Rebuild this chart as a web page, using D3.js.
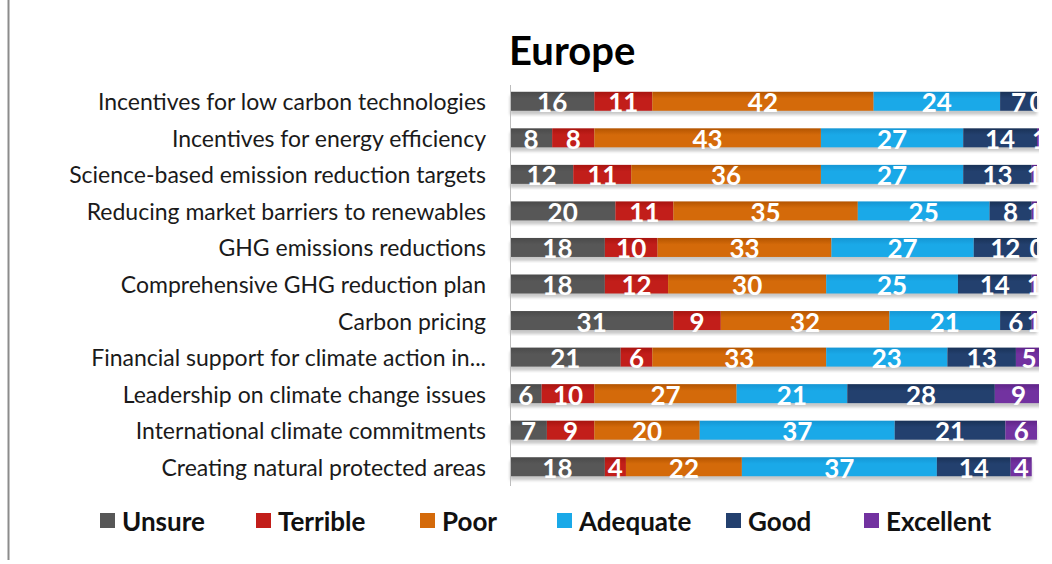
<!DOCTYPE html>
<html>
<head>
<meta charset="utf-8">
<script src="https://cdn.jsdelivr.net/npm/d3@7"></script>
<style>
  body { margin: 0; background: #fff; }
  text { font-family: Lato, "Open Sans", sans-serif; }
</style>
</head>
<body>
<svg width="1052" height="564"></svg>
<script>
const categories = [
  "Incentives for low carbon technologies",
  "Incentives for energy efficiency",
  "Science-based emission reduction targets",
  "Reducing market barriers to renewables",
  "GHG emissions reductions",
  "Comprehensive GHG reduction plan",
  "Carbon pricing",
  "Financial support for climate action in...",
  "Leadership on climate change issues",
  "International climate commitments",
  "Creating natural protected areas"
];
const seriesNames = ["Unsure", "Terrible", "Poor", "Adequate", "Good", "Excellent"];
const unsure    = [16, 8, 12, 20, 18, 18, 31, 21, 6, 7, 18];
const terrible  = [11, 8, 11, 11, 10, 12, 9, 6, 10, 9, 4];
const poor      = [42, 43, 36, 35, 33, 30, 32, 33, 27, 20, 22];
const adequate  = [24, 27, 27, 25, 27, 25, 21, 23, 21, 37, 37];
const good      = [7, 14, 13, 8, 12, 14, 6, 13, 28, 21, 14];
const excellent = [0, 1, 1, 1, 0, 1, 1, 5, 9, 6, 4];
const colors = ["#575757", "#c21e1a", "#d46a0a", "#1aa9e8", "#23406e", "#7232a0"];
const colorsDark = ["#4a4a4a", "#a8140f", "#b35400", "#1596d4", "#193257", "#5f2488"];

const svg = d3.select("svg");
const width = +svg.attr("width");
const height = +svg.attr("height");

const rows = categories.map((c, i) => {
  const vals = [unsure[i], terrible[i], poor[i], adequate[i], good[i], excellent[i]];
  let acc = 0;
  const segs = vals.map((v, k) => {
    const s = {cat: c, key: seriesNames[k], k: k, v: v, x0: acc, x1: acc + v};
    acc += v;
    return s;
  });
  return {cat: c, segs: segs};
});

const xScale = d3.scaleLinear().domain([0, 100]).range([510, 1037]);
const yScale = d3.scaleBand()
  .domain(categories)
  .range([83, 485])
  .paddingInner(0.48)
  .paddingOuter(0.24);

const defs = svg.append("defs");
colors.forEach((c, k) => {
  const g = defs.append("linearGradient")
    .attr("id", "grad" + k)
    .attr("x1", 0).attr("y1", 0).attr("x2", 0).attr("y2", 1);
  g.append("stop").attr("offset", "0%").attr("stop-color", colorsDark[k]);
  g.append("stop").attr("offset", "35%").attr("stop-color", c);
  g.append("stop").attr("offset", "100%").attr("stop-color", c);
});
defs.append("filter").attr("id", "blur")
  .append("feGaussianBlur").attr("stdDeviation", 1.8);
defs.append("clipPath").attr("id", "clip")
  .append("rect").attr("x", 500).attr("y", 0).attr("width", 539).attr("height", height);

// left border line
svg.append("line")
  .attr("x1", 8.5).attr("x2", 8.5).attr("y1", 0).attr("y2", 560)
  .attr("stroke", "#8c8c8c").attr("stroke-width", 2);

// title
svg.append("text")
  .attr("x", 509)
  .attr("y", 65)
  .style("font-size", "40px")
  .style("font-weight", "bold")
  .attr("fill", "#000")
  .text("Europe");

// category labels
svg.selectAll(".cat")
  .data(categories)
  .enter().append("text")
    .attr("class", "cat")
    .attr("x", 486)
    .attr("y", d => yScale(d) + yScale.bandwidth() / 2)
    .attr("text-anchor", "end")
    .attr("dominant-baseline", "central")
    .style("font-size", "23px")
    .attr("fill", "#1a1a1a")
    .text(d => d);

const plot = svg.append("g").attr("clip-path", "url(#clip)");

// shadows
plot.selectAll(".shadow")
  .data(rows)
  .enter().append("rect")
    .attr("x", xScale(0))
    .attr("y", d => yScale(d.cat) + 4)
    .attr("width", d => xScale(d3.sum(d.segs, s => s.v)) - xScale(0))
    .attr("height", yScale.bandwidth())
    .attr("fill", "#9a9a9a")
    .attr("opacity", 0.55)
    .attr("filter", "url(#blur)");

const rowG = plot.selectAll(".row")
  .data(rows)
  .enter().append("g")
    .attr("class", "row");

rowG.selectAll("rect")
  .data(d => d.segs)
  .enter().append("rect")
    .attr("x", d => xScale(d.x0))
    .attr("y", d => yScale(d.cat))
    .attr("width", d => xScale(d.x1) - xScale(d.x0))
    .attr("height", yScale.bandwidth())
    .attr("fill", d => "url(#grad" + d.k + ")");

rowG.selectAll("text")
  .data(d => d.segs)
  .enter().append("text")
    .attr("x", d => (xScale(d.x0) + xScale(d.x1)) / 2)
    .attr("y", d => yScale(d.cat) + yScale.bandwidth() / 2 + 1)
    .attr("text-anchor", "middle")
    .attr("dominant-baseline", "central")
    .style("font-size", "26px")
    .style("font-weight", "bold")
    .attr("fill", "#fff")
    .text(d => d.v);

// y axis line
svg.append("line")
  .attr("x1", 510.5).attr("x2", 510.5)
  .attr("y1", 85).attr("y2", 486)
  .attr("stroke", "#bdbdbd").attr("stroke-width", 1);

// legend
const legendX = [100, 256, 420, 557, 726, 864];
const legend = svg.selectAll(".legend")
  .data(seriesNames)
  .enter().append("g")
    .attr("class", "legend")
    .attr("transform", (d, i) => "translate(" + legendX[i] + ",513)");
legend.append("rect")
  .attr("width", 15).attr("height", 15)
  .attr("fill", (d, i) => colors[i]);
legend.append("text")
  .attr("x", 22)
  .attr("y", 8)
  .attr("dominant-baseline", "central")
  .style("font-size", "26px")
  .style("font-weight", "bold")
  .attr("fill", "#111")
  .text(d => d);
</script>
</body>
</html>
